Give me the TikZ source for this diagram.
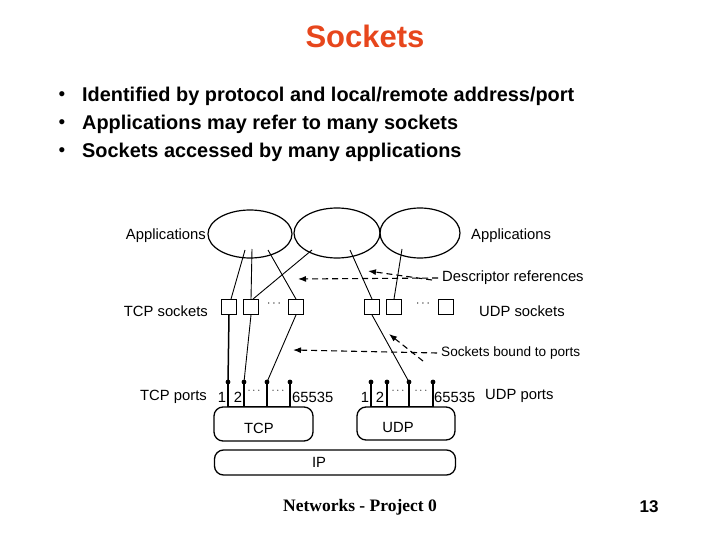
\documentclass[tikz,border=0pt]{standalone}
\usepackage{fontspec}
\setmainfont{Liberation Sans}
\newfontfamily\footfont{Liberation Serif}
\usetikzlibrary{shapes.geometric,arrows.meta}
\definecolor{titlered}{RGB}{231,70,28}

\tikzset{
  appl/.style={draw,ellipse,line width=1.2,inner sep=0},
  sock/.style={draw,rectangle,line width=0.9,minimum size=15,inner sep=0},
  stack/.style={draw,rectangle,rounded corners=9,line width=1.3,inner sep=0},
  lbl/.style={font=\fontsize{14.8}{14.8}\selectfont,inner sep=0},
  bul/.style={font=\fontsize{19.9}{19.9}\selectfont\bfseries,inner sep=0,anchor=west},
  wire/.style={line width=0.9},
  pin/.style={line width=1.2},
  dashref/.style={line width=1.1,dash pattern=on 6pt off 4pt,-{Latex[length=8,width=6]}},
}

\begin{document}
\begin{tikzpicture}[x=1pt,y=-1pt]
\useasboundingbox (0,0) rectangle (720,540);

%% title and bullets
\node[font=\fontsize{31}{31}\selectfont\bfseries,text=titlered] (title) at (365,36) {Sockets};
\node[bul] (b1) at (82,96) {Identified by protocol and local/remote address/port};
\node[bul] (b2) at (82,124) {Applications may refer to many sockets};
\node[bul] (b3) at (82,152) {Sockets accessed by many applications};
\foreach \y in {96,124,152}
  \node[font=\fontsize{19}{19}\selectfont,inner sep=0] at (62,\y) {•};

%% applications
\node[appl,minimum width=84,minimum height=48] (app1) at (250,234) {};
\node[appl,minimum width=86,minimum height=50] (app2) at (337,233) {};
\node[appl,minimum width=80,minimum height=50] (app3) at (420,233) {};

%% sockets
\node[sock] (t1) at (229,307) {};
\node[sock] (t2) at (251,307) {};
\node[sock] (t3) at (296,307) {};
\node[sock] (u1) at (372,307) {};
\node[sock] (u2) at (394,307) {};
\node[sock] (u3) at (446,307) {};
\node[font=\fontsize{12}{12}\selectfont,inner sep=0] (tdots) at (274,304) {$\cdots$};
\node[font=\fontsize{12}{12}\selectfont,inner sep=0] (udots) at (423,304) {$\cdots$};

%% protocol boxes
\node[stack,minimum width=99,minimum height=34] (tcp) at (263.5,424) {};
\node[stack,minimum width=98,minimum height=33] (udp) at (406,423.5) {};
\node[stack,minimum width=241,minimum height=25] (ip) at (335,462.5) {};
\node[lbl] at (259,428) {TCP};
\node[lbl] at (398,427) {UDP};
\node[lbl] at (319,462) {IP};

%% ports
\foreach \x [count=\i] in {228,244,267,290} {
  \coordinate (tp\i) at (\x,382);
  \draw[pin] (tp\i) -- (\x,407);
  \fill (tp\i) circle (2.4);
}
\foreach \x [count=\i] in {371,387,409,433} {
  \coordinate (up\i) at (\x,382);
  \draw[pin] (up\i) -- (\x,407);
  \fill (up\i) circle (2.4);
}
\draw[line width=1.6] (tp1 |- tcp.north) -- (tp4 |- tcp.north);
\draw[line width=1.6] (up1 |- udp.north) -- (up4 |- udp.north);

%% edges
\coordinate (a1) at (245,250);
\coordinate (a2) at (252,249);
\coordinate (a3) at (268,250);
\coordinate (a4) at (312,250);
\coordinate (a5) at (350,250);
\coordinate (a6) at (402,249);
\draw[wire] (a1) to ([xshift=2]t1.north);
\draw[wire] (a2) to (t2.north);
\draw[wire] (a3) to (t3.north);
\draw[wire] (a4) to ([xshift=2]t2.north);
\draw[wire] (a5) to (u1.north);
\draw[wire] (a6) to (u2.north);

\draw[line width=1.5] (t1.south) to (tp1);
\draw[wire] (t2.south) to (tp2);
\draw[wire] (t3.south) to (tp3);
\draw[wire] (u1.south) to (up3);

%% labels
\node[lbl,anchor=east] (appl) at (206,236) {Applications};
\node[lbl,anchor=west] (appr) at (471,236) {Applications};
\node[lbl,anchor=east] (tsock) at (208,311) {TCP sockets};
\node[lbl,anchor=west] (usock) at (479,311) {UDP sockets};
\node[lbl,anchor=west] (dref) at (442,278) {Descriptor references};
\node[lbl,anchor=west,font=\fontsize{13.6}{13.6}\selectfont] (sbp) at (441,353) {Sockets bound to ports};
\node[lbl,anchor=east] (tports) at (207,397) {TCP ports};
\node[lbl,anchor=west] (uports) at (485,396) {UDP ports};

\node[lbl] at (222,397) {1};
\node[lbl] at (238,397) {2};
\node[lbl,anchor=west] at (292,397) {65535};
\node[lbl] at (365,397) {1};
\node[lbl] at (380,397) {2};
\node[lbl,anchor=west] at (434,397) {65535};
\foreach \x in {254,278,398,421}
  \node[font=\fontsize{11}{11}\selectfont,inner sep=0] at (\x,391) {$\cdots$};

%% dashed pointers
\coordinate (dtip1) at (298,279);
\coordinate (dtip2) at (368,271);
\coordinate (stip1) at (293,350);
\coordinate (stip2) at (389,334);
\draw[dashref] ([xshift=-4]dref.west) to (dtip1);
\draw[dashref] ([xshift=-10,yshift=-2]dref.west) to (dtip2);
\draw[dashref] ([xshift=-4]sbp.west) to (stip1);
\draw[dashref] ([xshift=-18,yshift=-8]sbp.west) to (stip2);

%% footer
\node[font=\fontsize{17.5}{17.5}\selectfont\footfont\bfseries,inner sep=0] (foot) at (360,507) {Networks - Project 0};
\node[font=\fontsize{17}{17}\selectfont\bfseries,inner sep=0] (page) at (649,507) {13};
\end{tikzpicture}
\end{document}
